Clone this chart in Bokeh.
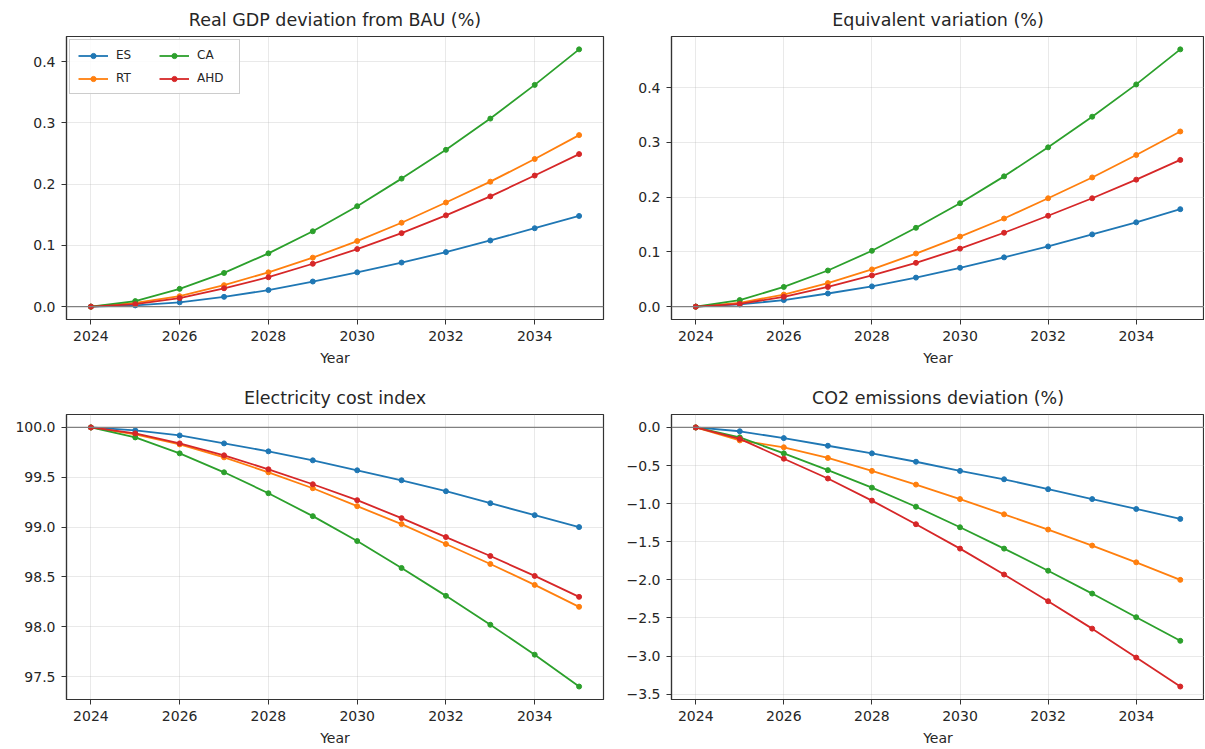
from bokeh.plotting import figure
from bokeh.layouts import gridplot
from bokeh.models import (Range1d, FixedTicker, CustomJSTickFormatter, Span, Legend, LegendItem)
from bokeh.embed import file_html
from bokeh.resources import INLINE

years = [2024, 2025, 2026, 2027, 2028, 2029, 2030, 2031, 2032, 2033, 2034, 2035]
scenarios = ["ES", "RT", "CA", "AHD"]
colors = ["#1f77b4", "#ff7f0e", "#2ca02c", "#d62728"]

gdp_es = [0, 0.002, 0.007, 0.016, 0.027, 0.041, 0.056, 0.072, 0.089, 0.108, 0.128, 0.148]
gdp_rt = [0, 0.006, 0.017, 0.035, 0.056, 0.080, 0.107, 0.137, 0.170, 0.204, 0.241, 0.280]
gdp_ca = [0, 0.009, 0.029, 0.055, 0.087, 0.123, 0.164, 0.209, 0.256, 0.307, 0.362, 0.420]
gdp_ahd = [0, 0.004, 0.014, 0.030, 0.048, 0.070, 0.094, 0.120, 0.149, 0.180, 0.214, 0.249]

ev_es = [0, 0.004, 0.012, 0.024, 0.037, 0.053, 0.071, 0.090, 0.110, 0.132, 0.154, 0.178]
ev_rt = [0, 0.007, 0.022, 0.043, 0.068, 0.097, 0.128, 0.161, 0.198, 0.236, 0.277, 0.320]
ev_ca = [0, 0.012, 0.036, 0.066, 0.102, 0.144, 0.189, 0.238, 0.291, 0.347, 0.406, 0.470]
ev_ahd = [0, 0.005, 0.018, 0.036, 0.057, 0.080, 0.106, 0.135, 0.166, 0.198, 0.232, 0.268]

elec_es = [100, 99.97, 99.92, 99.84, 99.76, 99.67, 99.57, 99.47, 99.36, 99.24, 99.12, 99.00]
elec_rt = [100, 99.93, 99.83, 99.70, 99.55, 99.39, 99.21, 99.03, 98.83, 98.63, 98.42, 98.20]
elec_ca = [100, 99.90, 99.74, 99.55, 99.34, 99.11, 98.86, 98.59, 98.31, 98.02, 97.72, 97.40]
elec_ahd = [100, 99.94, 99.84, 99.72, 99.58, 99.43, 99.27, 99.09, 98.90, 98.71, 98.51, 98.30]

co2_es = [0, -0.05, -0.14, -0.24, -0.34, -0.45, -0.57, -0.68, -0.81, -0.94, -1.07, -1.20]
co2_rt = [0, -0.17, -0.26, -0.40, -0.57, -0.75, -0.94, -1.14, -1.34, -1.55, -1.77, -2.00]
co2_ca = [0, -0.13, -0.34, -0.56, -0.79, -1.04, -1.31, -1.59, -1.88, -2.18, -2.49, -2.80]
co2_ahd = [0, -0.15, -0.41, -0.67, -0.96, -1.27, -1.59, -1.93, -2.28, -2.64, -3.02, -3.40]

x_ticks = [2024, 2026, 2028, 2030, 2032, 2034]
gdp_ticks = [0.0, 0.1, 0.2, 0.3, 0.4]
ev_ticks = [0.0, 0.1, 0.2, 0.3, 0.4]
elec_ticks = [97.5, 98.0, 98.5, 99.0, 99.5, 100.0]
co2_ticks = [0.0, -0.5, -1.0, -1.5, -2.0, -2.5, -3.0, -3.5]

titles = ["Real GDP deviation from BAU (%)", "Equivalent variation (%)",
          "Electricity cost index", "CO2 emissions deviation (%)"]

FONT = "DejaVu Sans"
TXT = "#262626"


def pad_range(vals_lists):
    lo = min(min(v) for v in vals_lists)
    hi = max(max(v) for v in vals_lists)
    m = (hi - lo) * 0.05
    return Range1d(lo - m, hi + m)


def make_panel(title, series, yticks, ref, w, h, bl, br, bt, bb, legend=False):
    p = figure(width=w, height=h, output_backend="svg", toolbar_location=None,
               min_border_left=bl, min_border_right=br, min_border_top=bt, min_border_bottom=bb,
               x_range=Range1d(2024 - 0.55, 2035 + 0.55), y_range=pad_range(series))
    p.title.text = title
    p.title.align = "center"
    p.title.text_font = FONT
    p.title.text_font_size = "17.5px"
    p.title.text_font_style = "normal"
    p.title.text_color = TXT
    p.title.standoff = 14
    p.background_fill_color = "white"
    p.border_fill_color = "white"
    p.outline_line_color = "#333333"
    p.outline_line_width = 1.2
    for ax in (p.xaxis[0], p.yaxis[0]):
        ax.major_label_text_font = FONT
        ax.major_label_text_font_size = "14px"
        ax.major_label_text_color = TXT
        ax.axis_line_color = "#333333"
        ax.axis_line_width = 1.2
        ax.major_tick_line_color = "#333333"
        ax.major_tick_in = 0
        ax.major_tick_out = 5
        ax.minor_tick_line_color = None
        ax.major_label_standoff = 6
    p.xaxis.ticker = FixedTicker(ticks=x_ticks)
    p.yaxis.ticker = FixedTicker(ticks=yticks)
    p.yaxis.formatter = CustomJSTickFormatter(code="return tick.toFixed(1).replace('-', '\u2212');")
    p.xaxis.axis_label = "Year"
    p.xaxis.axis_label_text_font = FONT
    p.xaxis.axis_label_text_font_size = "14px"
    p.xaxis.axis_label_text_font_style = "normal"
    p.xaxis.axis_label_text_color = TXT
    p.xaxis.axis_label_standoff = 6
    p.grid.grid_line_color = "#b0b0b0"
    p.grid.grid_line_alpha = 0.35
    p.grid.grid_line_width = 0.8
    p.add_layout(Span(location=ref, dimension="width", line_color="#808080", line_width=1.3))
    items = []
    for name, col, ys in zip(scenarios, colors, series):
        r1 = p.line(years, ys, line_color=col, line_width=1.8)
        r2 = p.scatter(years, ys, size=5, fill_color=col, line_color=col)
        items.append(LegendItem(label=name, renderers=[r1, r2]))
    if legend:
        lg = Legend(items=items, location="top_left", orientation="vertical", nrows=2,
                    label_text_font=FONT, label_text_font_size="12px", label_text_color=TXT,
                    glyph_width=30, glyph_height=13, label_standoff=8, label_width=34,
                    spacing=9, padding=8, margin=3, border_line_color="#cccccc",
                    border_line_alpha=1, background_fill_alpha=0.85)
        p.add_layout(lg)
    return p


p1 = make_panel(titles[0], [gdp_es, gdp_rt, gdp_ca, gdp_ahd], gdp_ticks, 0,
                608, 378, 66, 5, 34, 59, legend=True)
p2 = make_panel(titles[1], [ev_es, ev_rt, ev_ca, ev_ahd], ev_ticks, 0,
                596, 378, 63, 0, 34, 59)
p3 = make_panel(titles[2], [elec_es, elec_rt, elec_ca, elec_ahd], elec_ticks, 100,
                608, 370, 66, 5, 35, 49)
p4 = make_panel(titles[3], [co2_es, co2_rt, co2_ca, co2_ahd], co2_ticks, 0,
                596, 370, 63, 0, 35, 49)

grid = gridplot([[p1, p2], [p3, p4]], toolbar_location=None)

open("out.html", "w").write(file_html(grid, INLINE))
